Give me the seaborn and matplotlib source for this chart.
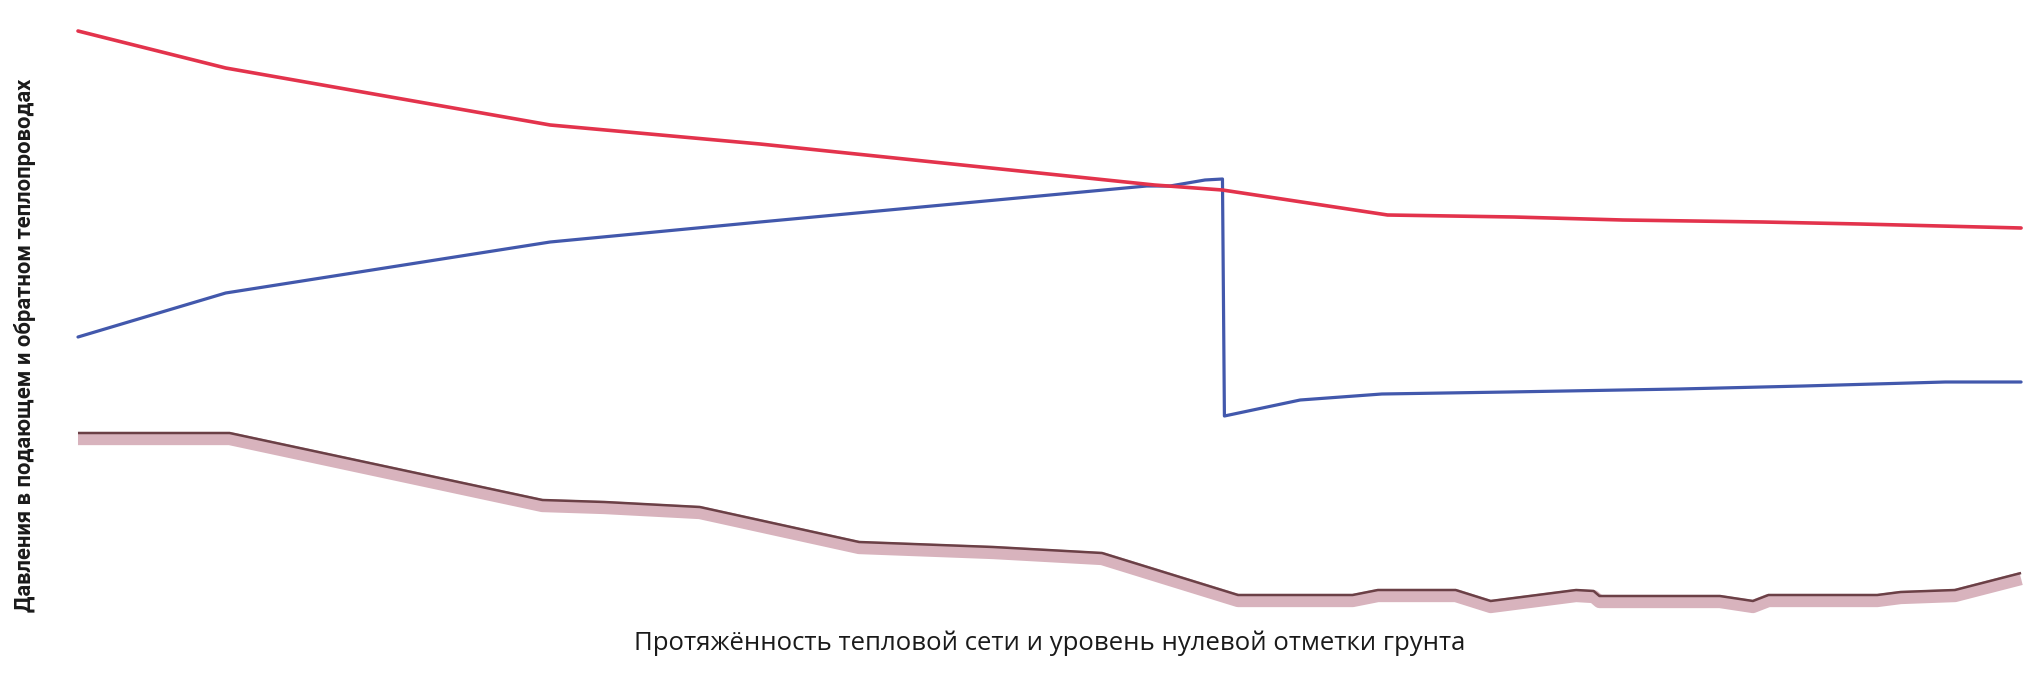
import numpy as np
import pandas as pd
import matplotlib
matplotlib.use("Agg")
import matplotlib.pyplot as plt
import matplotlib.patheffects as pe
import seaborn as sns

# ----------------------------------------------------
# Данные (условные единицы)
# ----------------------------------------------------

# подающий трубопровод
supply_x = [0.0, 0.76, 2.43, 3.51, 5.54, 5.89, 6.74, 7.39, 7.95, 8.67, 9.17, 10.0]
supply_p = [64.8, 61.1, 55.4, 53.5, 49.4, 48.9, 46.4, 46.2, 45.9, 45.7, 45.5, 45.1]

# обратный трубопровод (скачок на насосной станции)
return_x = [0.0, 0.76, 2.43, 3.51, 5.50, 5.62, 5.80, 5.89, 5.90, 6.29, 6.71, 7.36, 8.24, 8.88, 9.61, 10.0]
return_p = [34.2, 38.6, 43.7, 45.7, 49.3, 49.3, 49.9, 50.0, 26.3, 27.9, 28.5, 28.7, 29.0, 29.3, 29.7, 29.7]

# отметка грунта
ground_x = [0.0, 0.78, 2.39, 2.71, 3.20, 4.02, 4.71, 5.27, 5.97, 6.56, 6.69, 7.09, 7.27,
            7.71, 7.80, 7.83, 8.45, 8.62, 8.70, 9.26, 9.38, 9.66, 10.0]
ground_z = [24.6, 24.6, 17.9, 17.7, 17.2, 13.7, 13.2, 12.6, 8.4, 8.4, 8.9, 8.9, 7.8,
            8.9, 8.8, 8.3, 8.3, 7.8, 8.4, 8.4, 8.7, 8.9, 10.6]

x_label = "Протяжённость тепловой сети и уровень нулевой отметки грунта"
y_label = "Давления в подающем и обратном теплопроводах"

# ----------------------------------------------------
# График
# ----------------------------------------------------
sns.set_theme(style="white")

fig = plt.figure(figsize=(20.44, 6.79), dpi=100)
ax = fig.add_axes([0, 0, 1, 1])

# отметка грунта с розовой "тенью"
sns.lineplot(x=ground_x, y=ground_z, ax=ax, color="#6b4046", linewidth=1.8,
             estimator=None, sort=False, solid_capstyle="butt",
             path_effects=[pe.SimpleLineShadow(offset=(0, -4), shadow_color="#d8b3bd",
                                               alpha=1, rho=1, linewidth=9.5),
                           pe.Normal()])

sns.lineplot(x=return_x, y=return_p, ax=ax, color="#4258ac", linewidth=2.3,
             estimator=None, sort=False)
sns.lineplot(x=supply_x, y=supply_p, ax=ax, color="#e3334c", linewidth=2.6,
             estimator=None, sort=False)

ax.set_xlim(-0.4014, 10.118)
ax.set_ylim(0, 67.9)
ax.set_xticks([])
ax.set_yticks([])
sns.despine(ax=ax, left=True, bottom=True)

ax.set_xlabel(x_label, family=["Open Sans", "DejaVu Sans"], fontsize=18.5, color="#1a1a1a")
ax.xaxis.label.set_va("center")
ax.xaxis.set_label_coords(0.5137, 0.053)

ax.set_ylabel(y_label, family=["Liberation Sans Narrow", "Roboto", "DejaVu Sans"],
              fontsize=15.8, fontweight="bold", color="#1a1a1a")
ax.yaxis.label.set_va("center")
ax.yaxis.label.set_ha("center")
ax.yaxis.set_label_coords(0.0122, 0.4919)

fig.savefig("out.png", dpi=100, facecolor="white")
